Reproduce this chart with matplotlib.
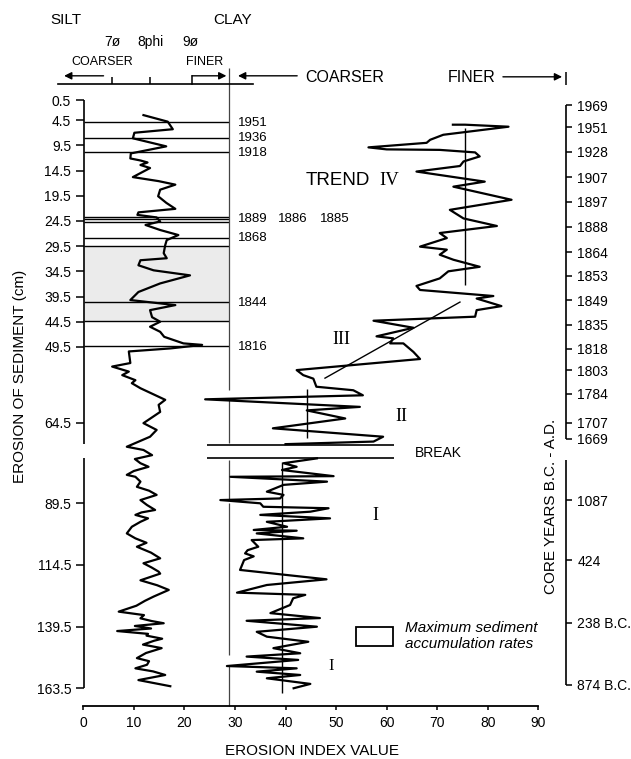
import numpy as np
import matplotlib
matplotlib.use('Agg')
import matplotlib.pyplot as plt
from matplotlib.patches import Rectangle, Patch

plt.rcParams['font.family'] = ['Liberation Sans', 'DejaVu Sans']

# depth axis is stretched above the break, compressed below it
DEPTH_KNOTS = [-30.0, 0.5, 64.5, 89.5, 114.5, 139.5, 163.5, 220.0]
ROW_KNOTS = [-53.7, 100.0, 422.5, 503.3, 565.0, 626.7, 688.0, 832.4]


def fwd(d):
    return np.interp(d, DEPTH_KNOTS, ROW_KNOTS)


def inv(r):
    return np.interp(r, ROW_KNOTS, DEPTH_KNOTS)


DEPTH_TICKS = [0.5, 4.5, 9.5, 14.5, 19.5, 24.5, 29.5, 34.5, 39.5, 44.5, 49.5,
               64.5, 89.5, 114.5, 139.5, 163.5]
YEAR_LABELS = ['1969', '1951', '1928', '1907', '1897', '1888', '1864', '1853',
               '1849', '1835', '1818', '1803', '1784', '1707', '1669', '1087',
               '424', '238 B.C.', '874 B.C.']
YEAR_DEPTHS = [1.5, 5.9, 10.8, 15.8, 20.7, 25.7, 30.7, 35.4, 40.2, 45.1, 49.9,
               54.1, 58.8, 64.6, 69.6, 88.5, 112.5, 138.0, 162.3]

# grain size (phi) curve, left panel
GRAIN_DEPTH = [3.5, 4.8, 6.3, 7.0, 8.1, 9.7, 11.1, 12.1, 12.5, 12.9, 13.4, 14.0,
               15.8, 16.6, 17.3, 18.3, 19.6, 20.9, 22.1, 22.8, 23.3, 23.8, 24.6,
               25.3, 26.3, 27.3, 28.3, 29.3, 30.9, 31.9, 32.3, 33.3, 34.3, 35.3,
               36.9, 38.6, 40.2, 41.2, 42.2, 43.6, 44.5, 45.5, 46.5, 47.5, 48.8,
               49.1, 49.8, 50.4, 52.7, 53.4, 54.4, 55.1, 56.1, 56.7, 57.7, 60.0,
               61.0, 62.4, 64.7, 66.8, 68.9, 72.0, 73.0, 74.6, 75.8, 77.1, 78.2,
               79.5, 80.7, 81.3, 82.8, 84.4, 85.6, 86.9, 88.5, 90.2, 92.2, 93.2,
               94.2, 95.6, 97.0, 99.0, 101.7, 103.7, 105.5, 107.1, 109.5, 111.8,
               113.8, 115.5, 117.2, 118.0, 120.7, 122.7, 124.6, 127.3, 129.0,
               131.0, 133.4, 134.8, 136.1, 137.2, 138.1, 139.2, 140.2, 141.2,
               142.3, 143.0, 144.2, 145.0, 146.5, 147.9, 149.8, 151.8, 153.0,
               154.4, 155.8, 157.0, 158.4, 160.4, 162.8]
GRAIN_VALUE = [11.9, 16.7, 17.7, 10.1, 9.8, 16.4, 9.4, 9.3, 11.3, 12.7, 11.3, 13.2,
               9.8, 14.9, 18.2, 15.2, 14.8, 16.4, 18.2, 10.9, 10.7, 14.5, 15.2,
               12.3, 15.2, 18.8, 16.5, 16.2, 15.9, 16.5, 11.3, 10.9, 13.9, 21.1,
               15.2, 10.9, 9.3, 18.2, 13.2, 13.6, 15.2, 13.2, 15.2, 16.0, 19.8,
               23.5, 17.2, 9.0, 9.3, 5.7, 9.0, 7.7, 10.3, 9.6, 11.3, 16.2,
               14.9, 15.2, 11.9, 14.5, 13.2, 8.6, 11.9, 13.6, 10.2, 11.3, 12.9,
               10.0, 8.6, 10.3, 11.3, 10.6, 13.0, 14.5, 11.3, 12.6, 14.2, 11.5,
               10.3, 12.8, 11.3, 9.6, 8.6, 10.3, 12.5, 10.6, 13.4, 15.2,
               11.9, 13.5, 14.9, 15.2, 11.3, 14.6, 16.9, 13.9, 12.2,
               10.5, 7.0, 12.0, 11.3, 13.5, 15.9, 10.2, 13.4, 6.7,
               12.8, 12.5, 15.6, 14.0, 11.8, 15.5, 12.4, 10.6, 13.0,
               12.6, 10.3, 13.8, 16.2, 10.9, 17.2]

# erosion index curve, above the break
UPPER_DEPTH = [5.4, 5.4, 5.8, 7.4, 8.4, 9.0, 9.9, 10.3, 10.4, 10.9, 11.7, 12.7,
               13.6, 14.7, 16.7, 17.7, 20.3, 22.3, 24.0, 25.5, 26.9, 27.9, 29.6,
               30.2, 31.2, 32.2, 33.6, 34.5, 35.9, 37.4, 38.2, 39.4, 39.9, 41.4,
               42.2, 43.5, 44.3, 45.7, 47.4, 47.8, 48.8, 48.8, 50.5, 51.9, 54.1,
               55.1, 55.8, 57.4, 58.1, 59.1, 59.9, 61.4, 62.1, 63.7, 66.3, 68.9,
               70.4, 71.2]
UPPER_VALUE = [73.1, 75.5, 84.1, 71.2, 68.6, 67.9, 56.4, 60.0, 70.5, 77.5, 78.4,
               75.2, 74.5, 65.9, 79.4, 73.2, 84.7, 72.5, 75.2, 81.8, 70.5, 71.9,
               66.6, 71.9, 70.5, 73.2, 78.4, 72.2, 70.5, 65.9, 66.6, 81.1, 77.8,
               82.7, 77.8, 77.5, 57.4, 65.3, 58.0, 61.3, 60.7, 63.3, 65.3, 66.6,
               42.2, 43.5, 45.5, 46.1, 53.4, 55.3, 24.1, 54.7, 44.2, 51.8, 37.5,
               59.3, 57.4, 40.0]

# erosion index curve, below the break
LOWER_DEPTH = [75.6, 77.1, 78.2, 79.2, 81.1, 81.3, 82.8, 83.8, 85.9, 86.9, 88.0,
               88.5, 89.5, 90.9, 91.5, 92.9, 94.2, 95.6, 97.0, 99.0, 100.3,
               100.6, 101.7, 103.7, 104.4, 107.1, 108.5, 109.8, 111.0, 112.5,
               116.5, 120.3, 122.6, 125.7, 126.6, 128.0, 130.7, 134.0, 136.0,
               137.1, 139.5, 141.5, 143.4, 145.4, 147.9, 149.9, 151.2, 152.5,
               154.9, 155.8, 157.1, 158.4, 159.7, 161.9, 163.6]
LOWER_VALUE = [46.2, 39.6, 42.2, 39.3, 49.5, 29.1, 48.2, 39.6, 36.3, 39.6, 38.9,
               27.1, 35.0, 35.6, 48.5, 44.9, 35.0, 48.8, 36.3, 40.3, 33.7,
               42.2, 34.3, 43.5, 33.3, 34.6, 32.5, 32.0, 33.7, 31.8,
               31.0, 48.1, 36.3, 30.4, 43.9, 41.5, 40.9, 37.0, 46.8,
               32.3, 46.2, 34.3, 36.3, 44.5, 37.6, 42.9, 32.3, 42.5,
               28.4, 42.2, 34.3, 42.9, 36.3, 44.9, 41.6]

# trend lines (index value, depth from, depth to)
TREND_IV = (75.5, 6.1, 37.2)
TREND_III_X = [47.8, 74.5]
TREND_III_D = [55.7, 40.6]
TREND_II = (44.2, 57.9, 69.4)
TREND_I = (39.3, 76.6, 165.5)

# dated horizons in the core
HORIZON_DEPTHS = [4.9, 8.0, 10.9, 23.7, 24.2, 24.8, 27.8, 29.4, 40.5, 44.3, 49.4]
DATE_LABELS = ['1951', '1936', '1918', '1889', '1868', '1844', '1816']
DATE_DEPTHS = [5.0, 8.0, 11.0, 24.1, 27.8, 40.8, 49.6]
MAX_ACCUM = (29.4, 44.3)   # shaded depth band
BREAK_DEPTHS = [71.5, 75.5]
DIVIDER_X = 28.8

fig = plt.figure(figsize=(6.31, 7.59), dpi=100)
ax = fig.add_axes([0, 0, 1, 1])
ax.set_yscale('function', functions=(fwd, inv))
ax.set_xlim(-16.48, 108.33)
ax.set_ylim(inv(759), inv(0))
ax.patch.set_alpha(0)

lw_curve = 1.6
ax.add_patch(Rectangle((0.3, MAX_ACCUM[0]), DIVIDER_X - 0.3, MAX_ACCUM[1] - MAX_ACCUM[0],
                       facecolor='#ebebeb', edgecolor='none', zorder=0))
ax.hlines(HORIZON_DEPTHS, 0.2, DIVIDER_X, color='black', lw=1.0, zorder=1)
ax.plot(GRAIN_VALUE, GRAIN_DEPTH, color='black', lw=lw_curve, zorder=3)
ax.plot(UPPER_VALUE, UPPER_DEPTH, color='black', lw=lw_curve, zorder=3)
ax.plot(LOWER_VALUE, LOWER_DEPTH, color='black', lw=lw_curve, zorder=3)

ax.vlines(TREND_IV[0], TREND_IV[1], TREND_IV[2], color='black', lw=1.0)
ax.plot(TREND_III_X, TREND_III_D, color='black', lw=1.0)
ax.vlines(TREND_II[0], TREND_II[1], TREND_II[2], color='black', lw=1.0)
ax.vlines(TREND_I[0], TREND_I[1], TREND_I[2], color='black', lw=1.0)

ax.hlines(BREAK_DEPTHS, 24.5, 61.5, color='black', lw=1.2)

# divider between grain size and erosion index panels
for d0, d1 in [(-5.9, 58.0), (59.6, 70.9), (76.0, 88.5), (89.5, 150.5), (154.5, 170.5)]:
    ax.vlines(DIVIDER_X, d0, d1, color='#444444', lw=0.9)

# axes: left depth scale, bottom index scale
for s in ['top', 'right']:
    ax.spines[s].set_visible(False)
ax.spines['left'].set_position(('data', 0.2))
ax.spines['left'].set_color('none')
for d0, d1 in [(0.5, 71.0), (75.4, 163.5)]:
    ax.vlines(0.2, d0, d1, color='black', lw=1.2)
ax.spines['bottom'].set_position(('data', inv(706)))
ax.spines['bottom'].set_bounds(0, 90)
ax.spines['bottom'].set_linewidth(1.3)
ax.set_xticks(range(0, 91, 10))
ax.set_yticks(DEPTH_TICKS)
ax.set_yticklabels(['%.1f' % d for d in DEPTH_TICKS])
ax.yaxis.set_minor_locator(matplotlib.ticker.NullLocator())
ax.tick_params(axis='y', direction='out', length=5.5, width=1.1, pad=4, labelsize=10)
ax.tick_params(axis='x', direction='out', length=3, width=1.1, pad=4, labelsize=10)
ax.text(-12.5, inv(376), 'EROSION OF SEDIMENT (cm)', rotation=90, fontsize=11,
        ha='center', va='center')
ax.text(45.3, inv(751), 'EROSION INDEX VALUE', fontsize=11, ha='center', va='center')

# right axis: core years
ax2 = ax.twinx()
ax2.set_yscale('function', functions=(fwd, inv))
ax2.set_ylim(ax.get_ylim())
for s in ['top', 'left', 'bottom']:
    ax2.spines[s].set_visible(False)
ax2.spines['right'].set_position(('data', 95.4))
ax2.spines['right'].set_color('none')
ax2.set_yticks(YEAR_DEPTHS)
ax2.set_yticklabels(YEAR_LABELS)
ax2.yaxis.set_minor_locator(matplotlib.ticker.NullLocator())
ax2.tick_params(axis='y', direction='out', length=4, width=1.1, pad=4.5, labelsize=10)
for d0, d1 in [(1.5, 69.6), (76.1, 162.3)]:
    ax.vlines(95.4, d0, d1, color='black', lw=1.2)
ax.text(92.6, inv(506), 'CORE YEARS B.C. - A.D.', rotation=90, fontsize=11,
        ha='center', va='center')

# horizon dates
for lab, d in zip(DATE_LABELS, DATE_DEPTHS):
    ax.text(30.6, d, lab, fontsize=9.5, ha='left', va='center')
ax.text(38.5, DATE_DEPTHS[3], '1886', fontsize=9.5, ha='left', va='center')
ax.text(46.8, DATE_DEPTHS[3], '1885', fontsize=9.5, ha='left', va='center')

# trend labels
ax.text(50.4, 16.4, 'TREND', fontsize=13.5, ha='center', va='center')
ax.text(60.6, 16.4, 'IV', fontsize=13.5, ha='center', va='center', family='Liberation Serif')
ax.text(51.0, 48.1, 'III', fontsize=13, ha='center', va='center', family='Liberation Serif')
ax.text(63.0, 63.4, 'II', fontsize=13, ha='center', va='center', family='Liberation Serif')
ax.text(57.7, 94.6, 'I', fontsize=13, ha='center', va='center', family='Liberation Serif')
ax.text(49.0, 154.9, 'I', fontsize=12, ha='center', va='center', family='Liberation Serif')
ax.text(70.2, 73.9, 'BREAK', fontsize=10, ha='center', va='center')

# header of the grain size panel
ax.text(-3.4, -15.4, 'SILT', fontsize=11, ha='center', va='center')
ax.text(29.6, -15.4, 'CLAY', fontsize=11, ha='center', va='center')
for lab, x in zip(['7ø', '8phi', '9ø'], [5.7, 13.2, 21.1]):
    ax.text(x, -11.0, lab, fontsize=10, ha='center', va='center')
ax.text(3.8, -7.0, 'COARSER', fontsize=9, ha='center', va='center')
ax.text(23.9, -7.0, 'FINER', fontsize=9, ha='center', va='center')
ax.plot([-5.1, 33.6], [-2.7, -2.7], color='black', lw=1.2)
ax.vlines([5.7, 13.2], -4.1, -2.7, color='black', lw=1.1)
ax.plot([21.5, 21.5], [-2.7, -4.3], color='black', lw=1.1)
arrow = dict(arrowstyle='-|>', lw=1.0, color='black', mutation_scale=11,
             shrinkA=0, shrinkB=0)
ax.annotate('', xy=(-3.8, -4.3), xytext=(4.0, -4.3), arrowprops=arrow)
ax.annotate('', xy=(28.3, -4.3), xytext=(21.5, -4.3), arrowprops=arrow)

# header of the erosion index panel
ax.annotate('', xy=(30.6, -4.3), xytext=(42.3, -4.3), arrowprops=arrow)
ax.text(51.6, -3.9, 'COARSER', fontsize=11.5, ha='center', va='center')
ax.text(76.9, -3.9, 'FINER', fontsize=11.5, ha='center', va='center')
ax.annotate('', xy=(94.7, -4.1), xytext=(83.0, -4.1), arrowprops=arrow)
ax.vlines(95.5, -5.1, -2.5, color='black', lw=1.1)

leg = ax.legend(handles=[Patch(facecolor='white', edgecolor='black', lw=1.3)],
                labels=['Maximum sediment\naccumulation rates'],
                loc='center left', bbox_to_anchor=(356 / 631, 1 - 636 / 759),
                frameon=False, borderpad=0, borderaxespad=0, handlelength=2.4,
                handleheight=1.6, handletextpad=0.8,
                prop={'style': 'italic', 'size': 11})
leg.get_texts()[0].set_linespacing(1.25)

fig.savefig('out.png', dpi=100)
